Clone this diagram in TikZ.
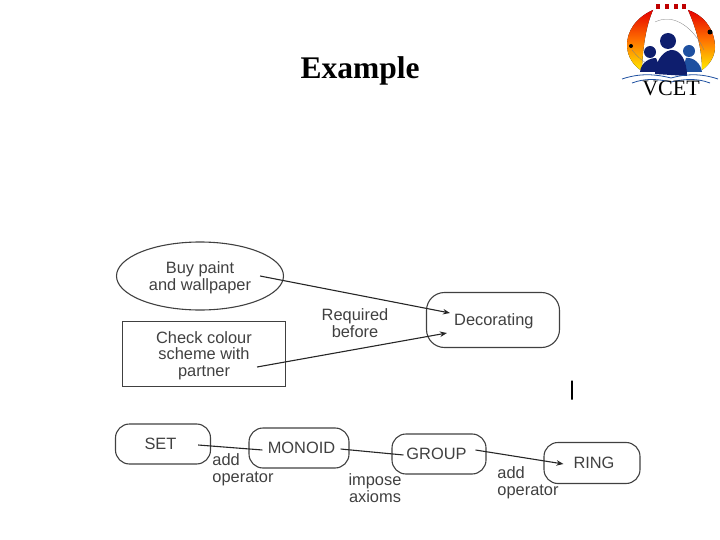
\documentclass[tikz,border=0pt]{standalone}
\usepackage{fontspec}
\setmainfont{Liberation Sans}
\newfontfamily\titlefont{Liberation Serif}
\usetikzlibrary{arrows.meta,shapes.geometric}
\definecolor{inkgrey}{gray}{0.25}
\definecolor{logonavy}{RGB}{14,30,110}
\definecolor{logoblue}{RGB}{30,80,160}
\tikzset{
	lbl/.style={text=inkgrey, font=\fontsize{16.4}{16.5}\selectfont, align=center, inner sep=0pt},
	rbox/.style={draw=inkgrey, line width=1.1pt, rounded corners=14pt, lbl},
	link/.style={-{Stealth[length=7pt,width=5.5pt]}, line width=1.1pt, black!85}
}
\begin{document}
\begin{tikzpicture}[x=1pt,y=-1pt]
		\useasboundingbox (0,0) rectangle (720,540);
		\node[font=\titlefont\bfseries\fontsize{31.5}{33}\selectfont, inner sep=0pt] (title) at (360,71) {Example};
		
		% top group
		\node[ellipse, lbl, text depth=0pt, draw=inkgrey, line width=1.1pt, minimum width=167pt, minimum height=68pt] (buy) at (200,276) {Buy paint\\and wallpaper};
		\node[rectangle, lbl, text depth=0pt, draw=inkgrey, line width=1.1pt, minimum width=163pt, minimum height=65pt] (check) at (204,354) {Check colour\\scheme with\\partner};
		\node[rbox, rounded corners=18pt, text depth=0pt, minimum width=133pt, minimum height=55pt, text width=81pt, align=right] (deco) at (493,320) {Decorating};
		\node[lbl] (req) at (355,323) {Required\\before};
		\draw[link] ([shift={(-24,0)}]buy.east) -- ([shift={(24,-7)}]deco.west);
		\draw[link] ([shift={(-29,13)}]check.east) -- ([shift={(21,13)}]deco.west);
		
		% bottom chain
		\node[rbox, minimum width=95pt, minimum height=40pt, text width=62pt] (set) at (163,444) {SET\hspace*{5pt}};
		\node[rbox, minimum width=100pt, minimum height=40pt, text width=80pt] (monoid) at (299,448) {\hspace*{5pt}MONOID};
		\node[rbox, minimum width=94pt, minimum height=40pt, text width=70pt] (group) at (439,454) {GROUP\hspace*{5pt}};
		\node[rbox, minimum width=96pt, minimum height=41pt, text width=70pt] (ring) at (592,463) {\hspace*{4pt}RING};
		\draw[line width=1.1pt, black!85] ([shift={(-13,1)}]set.east) -- ([shift={(14,2)}]monoid.west);
		\draw[line width=1.1pt, black!85] ([shift={(-9,1)}]monoid.east) -- ([shift={(12,1)}]group.west);
		\draw[link] ([shift={(-11,-4)}]group.east) -- ([shift={(20,1)}]ring.west);
		\node[lbl, align=left] (addone) at (243,470) {add\\operator};
		\node[lbl] (impose) at (375,488) {impose\\axioms};
		\node[lbl, align=left] (addtwo) at (528,483) {add\\operator};
		
		\node[draw=black, line width=1.4pt, minimum width=0pt, minimum height=19pt, inner sep=0pt] (mark) at (572,390) {};
		
		% logo
		\fill[bottom color=yellow!85!orange, top color=red!90!black, middle color=orange!90!red] (653,10) .. controls (635,18) and (627,32) .. (627,45) .. controls (627,57) and (634,66) .. (642,71) .. controls (642,60) and (644,30) .. (653,10) -- cycle;
		\fill[bottom color=yellow!85!orange, top color=red!90!black, middle color=orange!90!red] (688,10) .. controls (706,16) and (715,32) .. (715,47) .. controls (715,57) and (709,65) .. (702,70) .. controls (702,48) and (696,28) .. (688,10) -- cycle;
		\draw[gray, line width=0.3pt] (655,22) .. controls (675,12) and (695,30) .. (704,50);
		\draw[gray, line width=0.3pt] (632,50) .. controls (640,60) and (645,62) .. (650,66);
		\foreach \tx in {658,667,676,684}
			\fill[red!75!black] (\tx-2,4) rectangle (\tx+2,9);
		\fill[black] (631,46) circle (2pt);
		\fill[black] (710,32) circle (2.5pt);
		\fill[logonavy] (640,72) .. controls (641,62) and (650,58) .. (656,58) -- (662,72) -- cycle;
		\fill[logonavy] (650,52) circle (6pt);
		\fill[logoblue] (682,72) -- (686,58) .. controls (694,57) and (701,64) .. (702,72) -- cycle;
		\fill[logoblue] (689,51) circle (6pt);
		\fill[logonavy] (655,74) .. controls (656,57) and (666,50) .. (672,50) .. controls (680,50) and (687,60) .. (687,76) -- cycle;
		\fill[logonavy] (668,41) circle (8pt);
		\draw[logoblue, thick] (622,79) .. controls (640,73) and (655,74) .. (671,78) .. controls (685,74) and (700,73) .. (718,79);
		\draw[logoblue, thick] (632,83) .. controls (645,78) and (658,79) .. (671,82) .. controls (684,79) and (697,78) .. (710,83);
		\node[font=\titlefont\fontsize{22}{24}\selectfont, inner sep=0pt] (vcet) at (671,88) {VCET};
\end{tikzpicture}
\end{document}
